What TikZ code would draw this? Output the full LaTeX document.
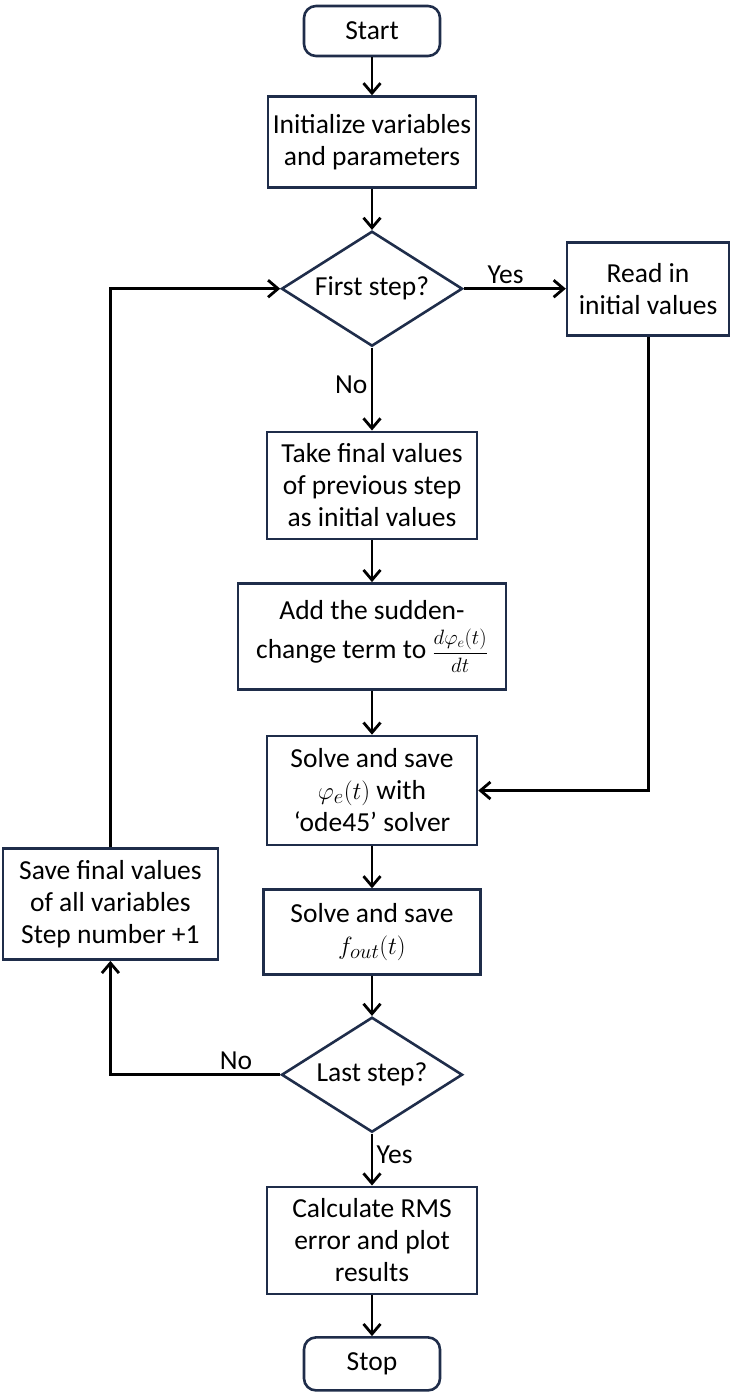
\documentclass[tikz,border=0pt]{standalone}
\usepackage{amsmath}
\usepackage{fontspec}
\setmainfont{Carlito}
\usetikzlibrary{positioning, arrows.meta, shapes.geometric}
\definecolor{boxline}{HTML}{1F2D4A}
\tikzset{
  base/.style={draw=boxline, line width=2.6pt, align=center, font=\fontsize{27.5}{32}\selectfont, inner sep=0pt, fill=white},
  term/.style={base, rounded corners=12pt, minimum width=136pt, minimum height=50pt},
  proc/.style={base, minimum width=210pt, minimum height=107pt},
  dec/.style={base, diamond, aspect=1.57, minimum width=181pt, minimum height=115pt},
  arr/.style={-{Straight Barb[length=10pt, width=17pt]}, line width=2.8pt},
  lbl/.style={font=\fontsize{27.5}{32}\selectfont}
}
\begin{document}
\begin{tikzpicture}[x=1pt, y=1pt]
\useasboundingbox (0,0) rectangle (731,-1395);
\node[term] (start) at (372,-31) {Start};
\node[proc, below=38pt of start, minimum width=208pt, minimum height=91pt] (init) {Initialize variables\\and parameters};
\node[dec, below=41pt of init] (first) {First step?};
\node[proc, right=102pt of first, minimum width=162pt, minimum height=93pt] (read) {Read in\\initial values};
\node[proc, below=83pt of first] (take) {Take final values\\of previous step\\as initial values};
\node[proc, below=42pt of take, minimum width=268pt, minimum height=106pt] (add) {Add the sudden-\\[7pt]change term to {\fontsize{22}{26}\selectfont$\dfrac{d\varphi_e(t)}{dt}$}};
\node[proc, below=44pt of add, minimum height=109pt] (solve) {Solve and save\\$\varphi_e(t)$ with\\`ode45' solver};
\node[proc, below=42pt of solve, minimum width=217pt, minimum height=85pt] (fout) {Solve and save\\$f_{out}(t)$};
\node[dec, below=40pt of fout] (last) {Last step?};
\node[proc, below=52pt of last] (rms) {Calculate RMS\\error and plot\\results};
\node[term, below=41pt of rms, minimum height=53pt] (stop) {Stop};
\node[proc, left=43pt of fout, yshift=28pt, minimum width=215pt, minimum height=111pt] (save) {Save final values\\of all variables\\Step number +1};
% main column
\draw[arr] (start) -- (init);
\draw[arr] (init) -- (first);
\draw[arr] (first) -- node[lbl, above, pos=.41] {Yes} (read);
\draw[arr] (first) -- node[lbl, left, pos=.45] {No} (take);
\draw[arr] (take) -- (add);
\draw[arr] (add) -- (solve);
\draw[arr] (solve) -- (fout);
\draw[arr] (fout) -- (last);
\draw[arr] (last) -- node[lbl, right, pos=.4] {Yes} (rms);
\draw[arr] (rms) -- (stop);
% side loops
\draw[arr] (read.south) |- (solve.east);
\draw[arr] (last.west) -| node[lbl, above, pos=.13] {No} (save.south);
\draw[arr] (save.north) |- (first.west);
\end{tikzpicture}
\end{document}
